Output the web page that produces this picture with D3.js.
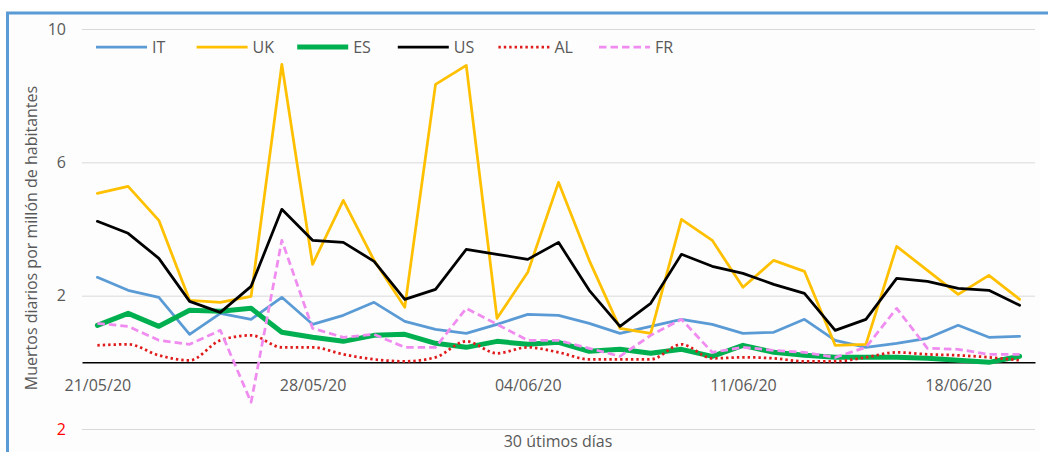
<!DOCTYPE html>
<html>
<head>
<meta charset="utf-8">
<script src="https://cdn.jsdelivr.net/npm/d3@7"></script>
<style>
  body { margin: 0; background: #fff; }
  svg { display: block; font-family: "Open Sans", sans-serif; }
</style>
</head>
<body>
<script>
'use strict';

// last 30 days (categories)
const days = ["21/05/20", "22/05/20", "23/05/20", "24/05/20", "25/05/20", "26/05/20", "27/05/20",
  "28/05/20", "29/05/20", "30/05/20", "31/05/20", "01/06/20", "02/06/20", "03/06/20",
  "04/06/20", "05/06/20", "06/06/20", "07/06/20", "08/06/20", "09/06/20", "10/06/20",
  "11/06/20", "12/06/20", "13/06/20", "14/06/20", "15/06/20", "16/06/20", "17/06/20",
  "18/06/20", "19/06/20", "20/06/20"];
const dayLabels = ["21/05/20", "28/05/20", "04/06/20", "11/06/20", "18/06/20"];
const yTicks = [-2, 2, 6, 10];

// deaths per million
const itValues = [2.55, 2.16, 1.95, 0.84, 1.47, 1.29, 1.95, 1.14, 1.41, 1.8, 1.23, 0.99, 0.87, 1.14, 1.44, 1.41,
  1.17, 0.87, 1.08, 1.29, 1.14, 0.87, 0.9, 1.29, 0.66, 0.45, 0.57, 0.72, 1.11, 0.75, 0.78];
const ukValues = [5.07, 5.28, 4.26, 1.86, 1.8, 1.98, 8.94, 2.94, 4.86, 3.06, 1.65, 8.34, 8.91, 1.32, 2.7, 5.4,
  3.06, 1.02, 0.87, 4.29, 3.66, 2.25, 3.06, 2.73, 0.51, 0.54, 3.48, 2.76, 2.04, 2.61, 1.89];
const esValues = [1.11, 1.47, 1.08, 1.56, 1.53, 1.62, 0.9, 0.75, 0.63, 0.81, 0.84, 0.57, 0.45, 0.63, 0.54, 0.6,
  0.33, 0.39, 0.27, 0.39, 0.18, 0.51, 0.3, 0.21, 0.15, 0.15, 0.15, 0.12, 0.06, 0.0, 0.18];
const usValues = [4.23, 3.87, 3.12, 1.83, 1.5, 2.28, 4.59, 3.66, 3.6, 3.03, 1.89, 2.19, 3.39, 3.24, 3.09, 3.6,
  2.16, 1.08, 1.77, 3.24, 2.88, 2.67, 2.34, 2.07, 0.96, 1.29, 2.52, 2.43, 2.22, 2.16, 1.71];
const alValues = [0.51, 0.54, 0.21, 0.06, 0.66, 0.81, 0.45, 0.45, 0.24, 0.09, 0.03, 0.15, 0.63, 0.27, 0.45, 0.3,
  0.09, 0.09, 0.09, 0.54, 0.12, 0.15, 0.12, 0.03, 0.03, 0.15, 0.3, 0.24, 0.21, 0.15, 0.06];
const frValues = [1.17, 1.08, 0.66, 0.54, 0.96, -1.2, 3.66, 1.02, 0.75, 0.84, 0.45, 0.45, 1.62, 1.14, 0.66, 0.66,
  0.42, 0.18, 0.81, 1.29, 0.3, 0.45, 0.36, 0.3, 0.15, 0.45, 1.62, 0.42, 0.39, 0.24, 0.24];

const seriesNames = ["IT", "UK", "ES", "US", "AL", "FR"];

(function () {

  let svgContainer = "";

  // line styles per series
  const styles = {
    IT: { color: "#5b9bd5", width: 2.75, dash: null, smooth: false },
    UK: { color: "#ffc000", width: 2.75, dash: null, smooth: false },
    ES: { color: "#00b050", width: 5, dash: null, smooth: false },
    US: { color: "#000000", width: 2.75, dash: null, smooth: false },
    AL: { color: "#e01b1b", width: 2.75, dash: "2.4,3", smooth: true },
    FR: { color: "#f08cf0", width: 2.75, dash: "7.5,4", smooth: false }
  };

  window.onload = function () {
    svgContainer = d3.select('body')
      .append('svg')
      .attr('width', 1048)
      .attr('height', 452);

    let series = [itValues, ukValues, esValues, usValues, alValues, frValues];

    drawFrame();
    let map = drawAxes();
    plotData(map, series);
    makeLabels();
    makeLegend();
  }

  // blue selection border of the chart object
  function drawFrame() {
    svgContainer.append("rect")
      .attr("x", 8)
      .attr("y", 13)
      .attr("width", 1032)
      .attr("height", 445)
      .style("fill", "#fdfdfd")
      .style("stroke", "none");

    svgContainer.append("line")
      .attr("x1", 6).attr("y1", 13).attr("x2", 1048).attr("y2", 13)
      .style("stroke", "#5b9bd5").style("stroke-width", 3);
    svgContainer.append("line")
      .attr("x1", 7.5).attr("y1", 12).attr("x2", 7.5).attr("y2", 452)
      .style("stroke", "#5b9bd5").style("stroke-width", 3);
  }

  function drawAxes() {
    let left = 82, right = 1035;

    let xScale = d3.scalePoint()
      .domain(days)
      .range([left, right])
      .padding(0.5);

    let yScale = d3.scaleLinear()
      .domain([-2, 10])
      .range([429, 29]);

    // gridlines + y tick labels (negative shown in red without sign)
    let yAxis = d3.axisLeft(yScale)
      .tickValues(yTicks)
      .tickSize(-(right - left))
      .tickPadding(16)
      .tickFormat(d => Math.abs(d));

    svgContainer.append('g')
      .attr('transform', 'translate(' + left + ',0)')
      .call(yAxis)
      .call(g => g.select('.domain').remove())
      .call(g => g.selectAll('.tick line').attr('stroke', '#d9d9d9').attr('stroke-width', 1))
      .call(g => g.selectAll('.tick text')
        .attr('fill', d => d < 0 ? '#ff0000' : '#595959')
        .style('font-size', '16px')
        .style('font-family', '"Open Sans", sans-serif'));

    // category axis on the zero line
    let xAxis = d3.axisBottom(xScale)
      .tickValues(dayLabels)
      .tickSize(0)
      .tickSizeOuter(0)
      .tickPadding(17);

    svgContainer.append('g')
      .attr('transform', 'translate(0,' + yScale(0) + ')')
      .call(xAxis)
      .call(g => g.select('.domain').attr('stroke', '#000').attr('stroke-width', 1.5))
      .call(g => g.selectAll('.tick text')
        .attr('fill', '#595959')
        .style('font-size', '16px')
        .style('font-family', '"Open Sans", sans-serif'));

    return { x: xScale, y: yScale };
  }

  function plotData(map, series) {
    series.forEach(function (values, k) {
      let st = styles[seriesNames[k]];
      let line = d3.line()
        .x((d, i) => map.x(days[i]))
        .y(d => map.y(d))
        .curve(st.smooth ? d3.curveMonotoneX : d3.curveLinear);

      svgContainer.append("path")
        .datum(values)
        .attr("d", line)
        .style("fill", "none")
        .style("stroke", st.color)
        .style("stroke-width", st.width)
        .style("stroke-linejoin", "round")
        .style("stroke-linecap", st.dash ? "butt" : "round")
        .style("stroke-dasharray", st.dash);
    });
  }

  function makeLabels() {
    svgContainer.append('text')
      .attr('transform', 'translate(37, 238)rotate(-90)')
      .attr('text-anchor', 'middle')
      .style('font-size', '16px')
      .style('fill', '#595959')
      .text("Muertos diarios por millón de habitantes");

    svgContainer.append('text')
      .attr('x', 558)
      .attr('y', 447)
      .attr('text-anchor', 'middle')
      .style('font-size', '16px')
      .style('fill', '#595959')
      .text("30 útimos días");
  }

  function makeLegend() {
    let legend = svgContainer.append("g")
      .selectAll("g")
      .data(seriesNames)
      .enter()
      .append("g")
      .attr("transform", (d, i) => "translate(" + (96 + i * 100.6) + ",47)");

    legend.append("line")
      .attr("x1", 0)
      .attr("x2", 51)
      .style("stroke", d => styles[d].color)
      .style("stroke-width", d => styles[d].width)
      .style("stroke-dasharray", d => styles[d].dash);

    legend.append("text")
      .attr("x", 56)
      .attr("dy", "0.35em")
      .style("font-size", "16px")
      .style("fill", "#595959")
      .text(d => d);
  }

})();
</script>
</body>
</html>
